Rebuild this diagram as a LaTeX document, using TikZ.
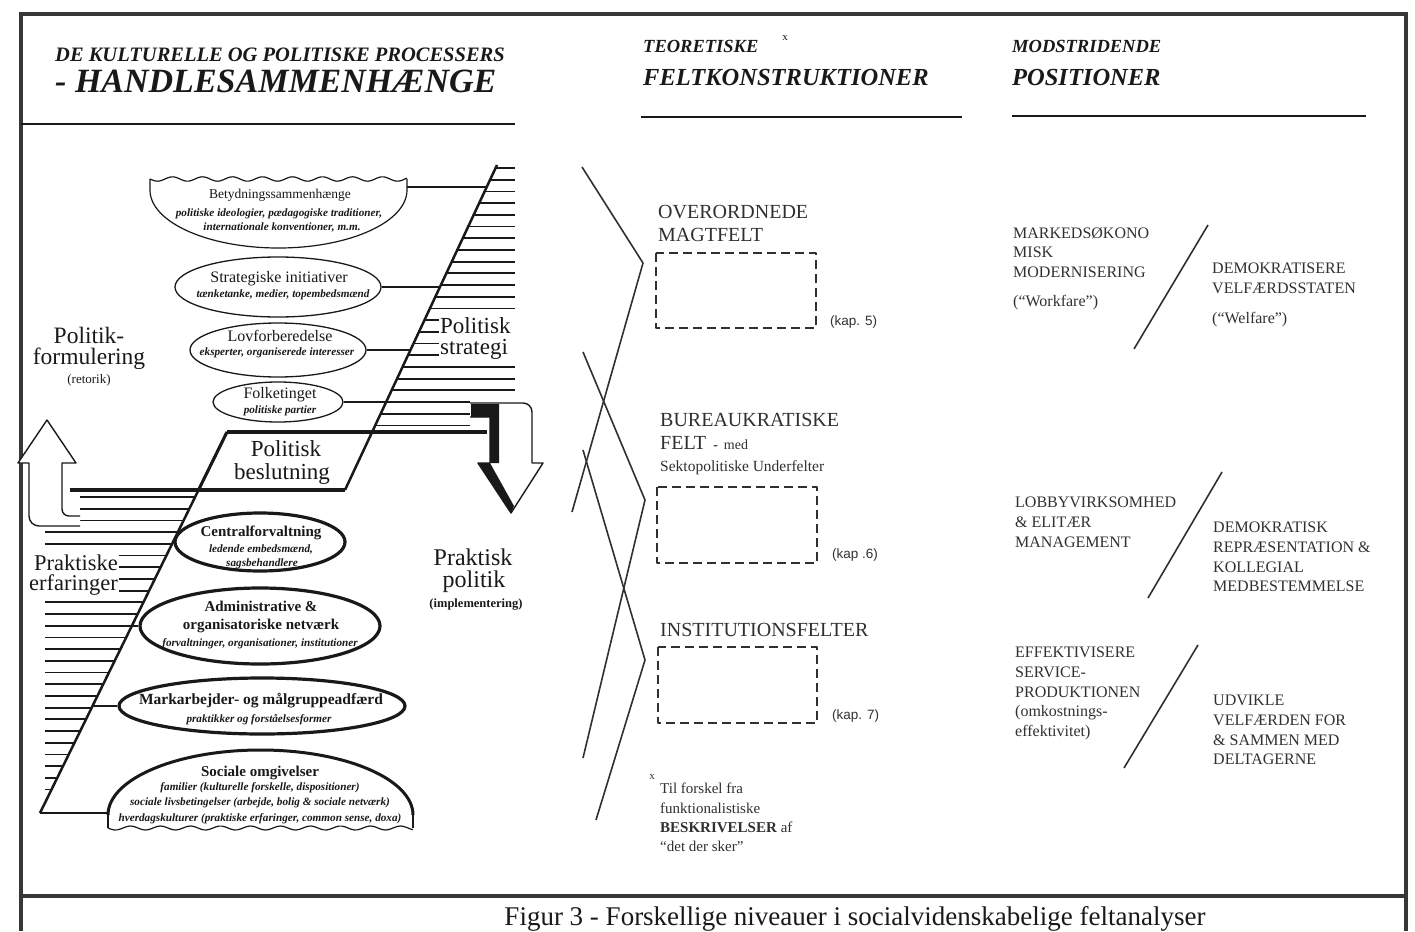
\documentclass[tikz,border=0pt]{standalone}
\usepackage{fontspec}
\setmainfont{Liberation Serif}
\setsansfont{Liberation Sans}
\usetikzlibrary{shapes.geometric}
\definecolor{ink}{RGB}{25,25,25}
\definecolor{gink}{RGB}{48,48,48}
\definecolor{framec}{RGB}{55,55,55}
\newcommand{\fsz}[2]{\fontsize{#1}{#2}\selectfont}
\begin{document}
\begin{tikzpicture}[x=1pt,y=-1pt,line join=round,
  every node/.style={inner sep=0pt,text=ink},
  framel/.style={draw=framec,line width=4pt},
  hline/.style={draw=ink,line width=2.6pt},
  hatch/.style={draw=ink,line width=1.8pt},
  slant/.style={draw=ink,line width=2.5pt},
  conn/.style={draw=ink,line width=1.3pt},
  ell/.style n args={2}{ellipse,draw=ink,minimum width=#1,minimum height=#2},
  thinell/.style={line width=1.3pt},
  thickell/.style={line width=3.2pt},
  big/.style={font=\fsz{23.5}{26},anchor=base},
  eh/.style={font=\fsz{16}{18},anchor=base},
  ehb/.style={font=\fsz{15}{17}\bfseries,anchor=base},
  esub/.style={font=\fsz{11.2}{13}\bfseries\itshape,anchor=base},
  coltxt/.style={font=\fsz{16}{19.7},text=gink,align=left,anchor=north west},
  midtxt/.style={font=\fsz{20}{23.5},text=gink,align=left,anchor=north west},
  kap/.style={font=\sffamily\fsz{13.5}{16},text=gink,anchor=west},
  zig/.style={draw=gink,line width=1.6pt},
  dbox/.style={draw=gink,line width=1.3pt,dash pattern=on 9pt off 5pt},
  hdA/.style={font=\fsz{18.5}{22}\bfseries\itshape,anchor=base west},
  hdB/.style={font=\fsz{24.5}{28}\bfseries\itshape,anchor=base west}
]
\useasboundingbox (0,0) rectangle (1415,931);
\fill[white] (0,0) rectangle (1415,931);

% ---------- frame ----------
\draw[framel] (19,14) -- (1408,14);
\draw[framel] (21,12) -- (21,931);
\draw[framel] (1406,12) -- (1406,931);
\draw[framel] (21,896) -- (1406,896);

% ---------- headers ----------
\node[font=\fsz{20.5}{24}\bfseries\itshape,anchor=base west] (h1) at (55,62) {DE KULTURELLE OG POLITISKE PROCESSERS};
\node[font=\fsz{34}{40}\bfseries\itshape,anchor=base west] (h2) at (55,93) {- HANDLESAMMENHÆNGE};
\node[hdA] (h3) at (643,53) {TEORETISKE};
\node[font=\fsz{11}{13},anchor=base] (h3x) at (785,41) {x};
\node[hdB] (h4) at (643,86) {FELTKONSTRUKTIONER};
\node[hdA] (h5) at (1012,53) {MODSTRIDENDE};
\node[hdB] (h6) at (1012,86) {POSITIONER};
\draw[hline] (21,124) -- (515,124);
\draw[hline] (641,117) -- (962,117);
\draw[hline] (1012,116) -- (1366,116);

% ---------- left diagram: hatching ----------
\foreach \k in {0,...,22}{
  \pgfmathsetmacro\yy{168+11.7*\k}
  \pgfmathsetmacro\xx{497-0.4677*(\yy-165)}
  \pgfmathsetmacro\xe{\yy>396?470:515}
  \draw[hatch] (\xx,\yy) -- (\xe,\yy);
}
\foreach \k in {0,...,26}{
  \pgfmathsetmacro\yy{497+11.7*\k}
  \pgfmathsetmacro\xs{\yy<527?80:45}
  \pgfmathsetmacro\xe{227-0.4908*(\yy-432)}
  \draw[hatch] (\xs,\yy) -- (\xe,\yy);
}

\coordinate (U1) at (497,165); \coordinate (U2) at (345,490);
\coordinate (L1) at (227,432); \coordinate (L2) at (40,813);
\draw[slant] (U1) -- (U2);
\draw[slant] (L1) -- (L2);
% Politisk beslutning parallelogram
\draw[draw=ink,line width=3.2pt] (227,432) -- (487,432);
\draw[draw=ink,line width=3.2pt] (70,490) -- (345,490);
\draw[draw=ink,line width=3pt] (227,432) -- (198.5,490);
\node[font=\fsz{23}{20},anchor=base] (pb1) at (286,456) {Politisk};
\node[font=\fsz{23}{20},anchor=base] (pb2) at (282,479) {beslutning};

% text blocks covering hatching
\node[font=\fsz{23}{21.5},text width=76pt,align=left,anchor=north west,fill=white,inner sep=1pt] (ps) at (439,316) {Politisk\\strategi};
\node[font=\fsz{22.5}{20},align=right,anchor=north east,fill=white,inner sep=1pt] (pe) at (119,554) {Praktiske\\erfaringer};

% ---------- up arrow ----------
\filldraw[fill=white,draw=ink,line width=1.4pt] (80,516) [rounded corners=7pt] -- (62,516) -- (62,470) [sharp corners] -- (62,463) -- (76,463) -- (47,420) -- (18,463) -- (29,463) -- (29,470) [rounded corners=10pt] -- (29,526) -- (80,526);

% ---------- down arrow ----------
\filldraw[fill=white,draw=ink,line width=1.4pt] (470,403) [rounded corners=9pt] -- (532,403) -- (532,445) [sharp corners] -- (532,463) -- (543,463) -- (511,513) -- (478,463) -- (490,463) -- (490,417) -- (470,417);
\fill[ink] (471,404) -- (499,404) -- (499,463) -- (490,463) -- (490,417) -- (471,417) -- cycle;
\fill[ink] (478,463) -- (490,463) -- (514,506) -- (511,513) -- cycle;

% ---------- left labels ----------
\node[big] (pf1) at (89,343) {Politik-};
\node[big] (pf2) at (89,364) {formulering};
\node[font=\fsz{13}{15},anchor=base] (pf3) at (89,383) {(retorik)};
\node[font=\fsz{24}{26},anchor=base] (pp1) at (473,565) {Praktisk};
\node[font=\fsz{24}{26},anchor=base] (pp2) at (474,587) {politik};
\node[font=\fsz{12.5}{15}\bfseries,anchor=base] (pp3) at (476,607) {(implementering)};

% ---------- Betydningssammenhaenge (wavy top) ----------
\draw[draw=ink,line width=1.2pt] plot[domain=150:407,samples=100,smooth] (\x,{179+2.2*sin((\x-150)*12)});
\draw[draw=ink,line width=1.2pt] (150,179) -- (150,190) arc[start angle=180,end angle=0,x radius=128.5,y radius=58] -- (407,179);
\coordinate (e1) at (407,187);
\node[font=\fsz{13.5}{16},anchor=base] (t1a) at (280,198) {Betydningssammenhænge};
\node[esub] (t1b) at (279,216) {politiske ideologier, pædagogiske traditioner,};
\node[esub] (t1c) at (282,230) {internationale konventioner, m.m.};

% ---------- upper ellipses ----------
\node[ell={206pt}{60pt},thinell] (e2) at (278,287) {};
\node[eh] (t2a) at (279,282) {Strategiske initiativer};
\node[esub] (t2b) at (283,297) {tænketanke, medier, topembedsmænd};

\node[ell={176pt}{54pt},thinell] (e3) at (278,350) {};
\node[eh] (t3a) at (280,341) {Lovforberedelse};
\node[esub] (t3b) at (277,355) {eksperter, organiserede interesser};

\node[ell={130pt}{40pt},thinell] (e4) at (278,402) {};
\node[eh] (t4a) at (280,398) {Folketinget};
\node[esub] (t4b) at (280,413) {politiske partier};

% ---------- lower ellipses ----------
\node[ell={170pt}{58pt},thickell] (e5) at (260,542) {};
\node[ehb] (t5a) at (261,536) {Centralforvaltning};
\node[esub] (t5b) at (261,552) {ledende embedsmænd,};
\node[esub] (t5c) at (262,566) {sagsbehandlere};

\node[ell={240pt}{76pt},thickell] (e6) at (260,626) {};
\node[ehb] (t6a) at (261,611) {Administrative \&};
\node[ehb] (t6b) at (261,629) {organisatoriske netværk};
\node[esub] (t6c) at (260,646) {forvaltninger, organisationer, institutioner};

\node[ell={286pt}{56pt},thickell] (e7) at (262,706) {};
\node[font=\fsz{15.5}{17}\bfseries,anchor=base] (t7a) at (261,704) {Markarbejder- og målgruppeadfærd};
\node[esub] (t7b) at (259,722) {praktikker og forståelsesformer};

% ---------- Sociale omgivelser (wavy bottom) ----------
\draw[draw=ink,line width=3pt] (108,815) arc[start angle=180,end angle=360,x radius=152.5,y radius=65];
\draw[draw=ink,line width=1.4pt] (108,815) -- (108,828);
\draw[draw=ink,line width=1.4pt] (413,815) -- (413,828);
\draw[draw=ink,line width=1.2pt] plot[domain=108:413,samples=100,smooth] (\x,{828+2*sin((\x-108)*12)});
\coordinate (e8) at (108,813);
\node[ehb] (t8a) at (260,776) {Sociale omgivelser};
\node[esub] (t8b) at (260,790) {familier (kulturelle forskelle, dispositioner)};
\node[esub] (t8c) at (260,805) {sociale livsbetingelser (arbejde, bolig \& sociale netværk)};
\node[esub] (t8d) at (260,821) {hverdagskulturer (praktiske erfaringer, common sense, doxa)};

% ---------- connectors ----------
\coordinate (c1) at (486.7,187);
\coordinate (c2) at (439.9,287);
\coordinate (c3) at (410.5,350);
\coordinate (c4) at (386.2,402);
\coordinate (c5) at (173.0,542);
\coordinate (c6) at (131.8,626);
\coordinate (c7) at (92.5,706);
\draw[conn] (e1) -- (c1);
\draw[conn] (e2.east) -- (c2);
\draw[conn] (e3.east) -- (c3);
\draw[conn] (e4.east) -- (c4);
\draw[conn,line width=2pt] (e5.west) -- (c5);
\draw[conn,line width=2pt] (e6.west) -- (c6);
\draw[conn,line width=2pt] (e7.west) -- (c7);
\draw[conn,line width=2pt] (L2) -- (e8);

% ---------- middle column ----------
\coordinate (za1) at (582,167); \coordinate (za2) at (643,263); \coordinate (za3) at (572,512);
\coordinate (zb1) at (583,352); \coordinate (zb2) at (645,500); \coordinate (zb3) at (583,758);
\coordinate (zc1) at (583,450); \coordinate (zc2) at (645,660); \coordinate (zc3) at (596,820);
\draw[zig] (za1) -- (za2) -- (za3);
\draw[zig] (zb1) -- (zb2) -- (zb3);
\draw[zig] (zc1) -- (zc2) -- (zc3);

\node[midtxt] (m1) at (658,205) {OVERORDNEDE\\MAGTFELT};
\draw[dbox] (656,253) rectangle (816,328);
\node[kap] (k1) at (830,322) {(kap. 5)};

\node[midtxt] (m2) at (660,413) {BUREAUKRATISKE\\FELT {\fsz{14}{16}\,\textbf{-}\, med}};
\node[font=\fsz{15.5}{18},text=gink,anchor=north west] (m2b) at (660,460) {Sektopolitiske Underfelter};
\draw[dbox] (657,487) rectangle (817,563);
\node[kap] (k2) at (832,555) {(kap .6)};

\node[midtxt] (m3) at (660,623) {INSTITUTIONSFELTER};
\draw[dbox] (658,647) rectangle (817,723);
\node[kap] (k3) at (832,716) {(kap. 7)};

\node[font=\fsz{11}{13},text=gink] (fx) at (652,777) {x};
\node[font=\fsz{15}{19.3},text=gink,align=left,anchor=north west] (fn) at (660,783) {Til forskel fra\\funktionalistiske\\\textbf{BESKRIVELSER} af\\“det der sker”};

% ---------- right column ----------
\coordinate (s1a) at (1208,225); \coordinate (s1b) at (1134,349);
\coordinate (s2a) at (1222,472); \coordinate (s2b) at (1148,598);
\coordinate (s3a) at (1198,645); \coordinate (s3b) at (1124,768);
\draw[zig] (s1a) -- (s1b);
\draw[zig] (s2a) -- (s2b);
\draw[zig] (s3a) -- (s3b);

\node[coltxt] (r1) at (1013,227) {MARKEDSØKONO\\MISK\\MODERNISERING\\[9pt](“Workfare”)};
\node[coltxt] (r2) at (1212,263) {DEMOKRATISERE\\VELFÆRDSSTATEN\\[10pt](“Welfare”)};
\node[coltxt] (r3) at (1015,497) {LOBBYVIRKSOMHED\\\& ELITÆR\\MANAGEMENT};
\node[coltxt] (r4) at (1213,522) {DEMOKRATISK\\REPRÆSENTATION \&\\KOLLEGIAL\\MEDBESTEMMELSE};
\node[coltxt] (r5) at (1015,647) {EFFEKTIVISERE\\SERVICE-\\PRODUKTIONEN\\(omkostnings-\\effektivitet)};
\node[coltxt] (r6) at (1213,695) {UDVIKLE\\VELFÆRDEN FOR\\\& SAMMEN MED\\DELTAGERNE};

% ---------- caption ----------
\node[font=\fsz{27}{30},anchor=base] (cap) at (855,925) {Figur 3 - Forskellige niveauer i socialvidenskabelige feltanalyser};
\end{tikzpicture}
\end{document}
